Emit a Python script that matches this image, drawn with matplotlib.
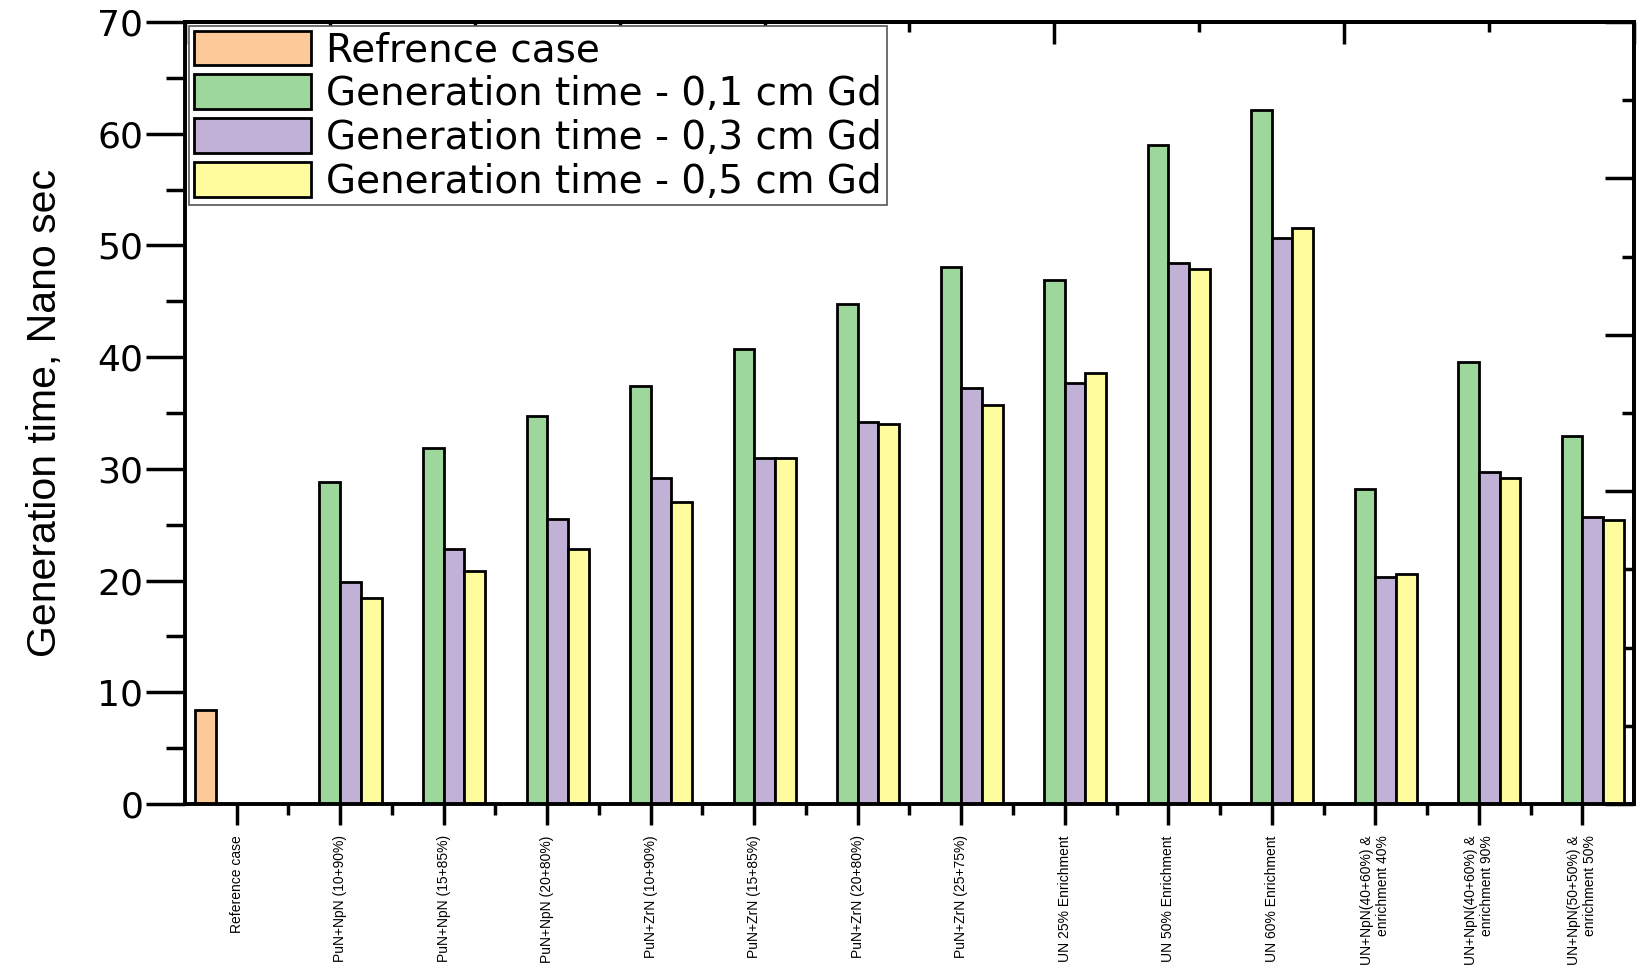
import numpy as np
import matplotlib.pyplot as plt
from matplotlib.ticker import MultipleLocator, FixedLocator, NullFormatter

categories = [
    "Reference case",
    "PuN+NpN (10+90%)",
    "PuN+NpN (15+85%)",
    "PuN+NpN (20+80%)",
    "PuN+ZrN (10+90%)",
    "PuN+ZrN (15+85%)",
    "PuN+ZrN (20+80%)",
    "PuN+ZrN (25+75%)",
    "UN 25% Enrichment",
    "UN 50% Enrichment",
    "UN 60% Enrichment",
    "UN+NpN(40+60%) &\nenrichment 40%",
    "UN+NpN(40+60%) &\nenrichment 90%",
    "UN+NpN(50+50%) &\nenrichment 50%",
]
nan = np.nan
ref_case = [8.4] + [nan] * 13
gd_01 = [nan, 28.8, 31.9, 34.7, 37.4, 40.7, 44.8, 48.1, 46.9, 59.0, 62.1, 28.2, 39.6, 32.9]
gd_03 = [nan, 19.9, 22.8, 25.5, 29.2, 31.0, 34.2, 37.2, 37.7, 48.4, 50.7, 20.3, 29.7, 25.7]
gd_05 = [nan, 18.4, 20.9, 22.8, 27.0, 31.0, 34.0, 35.7, 38.6, 47.9, 51.6, 20.6, 29.2, 25.4]

series = [
    (ref_case, "Refrence case", "#FDC998"),
    (gd_01, "Generation time - 0,1 cm Gd", "#9ED79B"),
    (gd_03, "Generation time - 0,3 cm Gd", "#C2B1D6"),
    (gd_05, "Generation time - 0,5 cm Gd", "#FEFC9C"),
]

fig = plt.figure(figsize=(16.38, 9.72), dpi=100)
ax = fig.add_axes([0.1129, 0.1728, 0.8847, 0.8046])

x = np.arange(len(categories))
w = 0.2
for i, (vals, lab, col) in enumerate(series):
    ax.bar(x + (i - 1.5) * w, vals, w, color=col, edgecolor="black",
           linewidth=2, label=lab)

ax.set_xlim(-0.5, 13.5)
ax.set_ylim(0, 70)
ax.yaxis.set_major_locator(MultipleLocator(10))
ax.yaxis.set_minor_locator(MultipleLocator(5))
ax.set_xticks(x)
ax.xaxis.set_minor_locator(FixedLocator(x[:-1] + 0.5))
ax.set_xticklabels(categories, rotation=90, fontsize=10, multialignment="right",
                   family="Liberation Sans")
ax.tick_params(axis="x", which="major", length=15, width=2.5, pad=7.5)
ax.tick_params(axis="x", which="minor", length=8, width=2.5)
ax.tick_params(axis="y", which="major", length=28, width=2.5, pad=2, labelsize=26)
ax.tick_params(axis="y", which="minor", length=14, width=2.5)
for lbl in ax.get_yticklabels():
    lbl.set_family("DejaVu Sans")
for s in ax.spines.values():
    s.set_linewidth(2.8)

ax.set_ylabel("Generation time, Nano sec", fontsize=29.5, family="Liberation Sans",
              va="center")
ax.yaxis.set_label_coords(-0.0966, 0.5)

# top and right axes from the original plot, ticks only
top = ax.secondary_xaxis("top")
top.set_xticks(np.linspace(-0.5, 13.5, 6))
top.xaxis.set_minor_locator(FixedLocator(np.linspace(-0.5, 13.5, 11)))
top.xaxis.set_major_formatter(NullFormatter())
top.tick_params(which="major", direction="in", length=16, width=2.5)
top.tick_params(which="minor", direction="in", length=7, width=2.5)
top.spines["top"].set_linewidth(2.8)

right = ax.secondary_yaxis("right")
right.set_yticks(np.linspace(0, 70, 6))
right.yaxis.set_minor_locator(FixedLocator(np.linspace(0, 70, 11)))
right.yaxis.set_major_formatter(NullFormatter())
right.tick_params(which="major", direction="in", length=21, width=2.5)
right.tick_params(which="minor", direction="in", length=9, width=2.5)
right.spines["right"].set_linewidth(2.8)

leg = ax.legend(loc="upper left", bbox_to_anchor=(0.003, 0.995), borderaxespad=0,
                prop={"family": "DejaVu Sans", "size": 28},
                handlelength=3.0, handleheight=1.0, handletextpad=0.4,
                labelspacing=0.13, borderpad=0.12, fancybox=False, framealpha=1)
leg.get_frame().set_edgecolor("#555555")
leg.get_frame().set_linewidth(1.2)

fig.savefig("out.png", dpi=100)
